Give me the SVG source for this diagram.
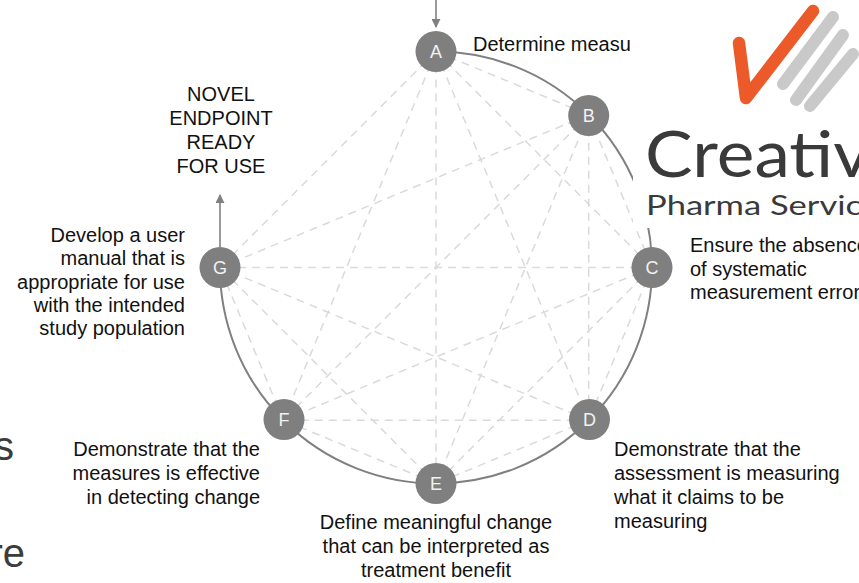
<svg xmlns="http://www.w3.org/2000/svg" width="859" height="583" viewBox="0 0 859 583">
<defs>
<style>
.lbl{font-family:"Liberation Sans",Arial,sans-serif;font-size:20px;fill:#111}
.dot{fill:#7f7f7f}
.ltr{font-family:"Liberation Sans",Arial,sans-serif;font-size:18px;fill:#f2f2f2;text-anchor:middle}
.dash{stroke:#dadada;stroke-width:1.5;stroke-dasharray:8 6;fill:none}
.ring{stroke:#808080;stroke-width:2;fill:none}
.arr{stroke:#808080;stroke-width:1.6;fill:none}
.big{font-family:"Liberation Sans",Arial,sans-serif;font-size:40px;fill:#3c3c3c;text-anchor:end}
.logo{font-family:Lato,"Open Sans",sans-serif;fill:#3a3a3a}
</style>
<marker id="ah" viewBox="0 0 10 10" refX="9" refY="5" markerWidth="9" markerHeight="9" markerUnits="userSpaceOnUse" orient="auto">
<path d="M0,0 L10,5 L0,10 z" fill="#808080"/>
</marker>
</defs>
<rect width="859" height="583" fill="#fff"/>
<g id="connectors">
<g id="chords">
<line class="dash" x1="436" y1="51.5" x2="588.7" y2="114.8"/>
<line class="dash" x1="436" y1="51.5" x2="652" y2="267.5"/>
<line class="dash" x1="436" y1="51.5" x2="588.7" y2="420.2"/>
<line class="dash" x1="436" y1="51.5" x2="436" y2="483.5"/>
<line class="dash" x1="436" y1="51.5" x2="283.3" y2="420.2"/>
<line class="dash" x1="436" y1="51.5" x2="220" y2="267.5"/>
<line class="dash" x1="588.7" y1="114.8" x2="652" y2="267.5"/>
<line class="dash" x1="588.7" y1="114.8" x2="588.7" y2="420.2"/>
<line class="dash" x1="588.7" y1="114.8" x2="436" y2="483.5"/>
<line class="dash" x1="588.7" y1="114.8" x2="283.3" y2="420.2"/>
<line class="dash" x1="588.7" y1="114.8" x2="220" y2="267.5"/>
<line class="dash" x1="652" y1="267.5" x2="588.7" y2="420.2"/>
<line class="dash" x1="652" y1="267.5" x2="436" y2="483.5"/>
<line class="dash" x1="652" y1="267.5" x2="283.3" y2="420.2"/>
<line class="dash" x1="652" y1="267.5" x2="220" y2="267.5"/>
<line class="dash" x1="588.7" y1="420.2" x2="436" y2="483.5"/>
<line class="dash" x1="588.7" y1="420.2" x2="283.3" y2="420.2"/>
<line class="dash" x1="588.7" y1="420.2" x2="220" y2="267.5"/>
<line class="dash" x1="436" y1="483.5" x2="283.3" y2="420.2"/>
<line class="dash" x1="436" y1="483.5" x2="220" y2="267.5"/>
<line class="dash" x1="283.3" y1="420.2" x2="220" y2="267.5"/>
</g>
<path id="ring" class="ring" d="M436,51.5 A216,216 0 1 1 220,267.5"/>
<line id="entry" class="arr" x1="436" y1="0" x2="436" y2="27" marker-end="url(#ah)"/>
<line id="exit" class="arr" x1="220" y1="247" x2="220" y2="195" marker-end="url(#ah)"/>
</g>
<g id="node-A"><circle class="dot" cx="436" cy="51.5" r="20.5"/><text class="ltr" x="436" y="58">A</text>
<text class="lbl" x="473" y="51">Determine measu</text></g>
<g id="node-B"><circle class="dot" cx="588.7" cy="115.5" r="20.5"/><text class="ltr" x="588.7" y="122">B</text></g>
<g id="node-C"><circle class="dot" cx="652" cy="267.5" r="20.5"/><text class="ltr" x="652" y="274">C</text>
<text class="lbl"><tspan x="690" y="252">Ensure the absence</tspan><tspan x="690" y="275.5">of systematic</tspan><tspan x="690" y="299">measurement error</tspan></text></g>
<g id="node-D"><circle class="dot" cx="589.5" cy="419.5" r="20.5"/><text class="ltr" x="589.5" y="426">D</text>
<text class="lbl"><tspan x="614" y="456">Demonstrate that the</tspan><tspan x="614" y="480">assessment is measuring</tspan><tspan x="614" y="504">what it claims to be</tspan><tspan x="614" y="528">measuring</tspan></text></g>
<g id="node-E"><circle class="dot" cx="436" cy="483.5" r="20.5"/><text class="ltr" x="436" y="490">E</text>
<text class="lbl" text-anchor="middle"><tspan x="436" y="529">Define meaningful change</tspan><tspan x="436" y="553">that can be interpreted as</tspan><tspan x="436" y="577">treatment benefit</tspan></text></g>
<g id="node-F"><circle class="dot" cx="284" cy="419.5" r="20.5"/><text class="ltr" x="284" y="426">F</text>
<text class="lbl" text-anchor="end"><tspan x="260" y="456">Demonstrate that the</tspan><tspan x="260" y="480">measures is effective</tspan><tspan x="260" y="504">in detecting change</tspan></text></g>
<g id="node-G"><circle class="dot" cx="220" cy="267.5" r="20.5"/><text class="ltr" x="220" y="274">G</text>
<text class="lbl" text-anchor="end"><tspan x="185" y="242">Develop a user</tspan><tspan x="185" y="265">manual that is</tspan><tspan x="185" y="288.5">appropriate for use</tspan><tspan x="185" y="312">with the intended</tspan><tspan x="185" y="335">study population</tspan></text></g>
<g id="endpoint"><text class="lbl" text-anchor="middle"><tspan x="221" y="101">NOVEL</tspan><tspan x="221" y="125">ENDPOINT</tspan><tspan x="221" y="149">READY</tspan><tspan x="221" y="173">FOR USE</tspan></text></g>
<g id="side-text"><text class="big" x="14" y="460">s</text><text class="big" x="25" y="567">re</text></g>
<g id="logo">
<rect x="633" y="0" width="226" height="228" fill="#fff"/>
<g stroke-linecap="round" stroke-linejoin="round" fill="none">
<path d="M739,43 L746,98 L813,11" stroke="#ec5a2a" stroke-width="12.5"/>
<line x1="833" y1="17" x2="783" y2="84" stroke="#c9c9c9" stroke-width="12"/>
<line x1="843" y1="35" x2="796" y2="100" stroke="#c9c9c9" stroke-width="12"/>
<line x1="853" y1="54" x2="810" y2="106" stroke="#c9c9c9" stroke-width="12"/>
</g>
<text class="logo" x="645" y="177" font-size="63" textLength="225" lengthAdjust="spacingAndGlyphs">Creativ</text>
<text class="logo" x="646" y="215" font-size="26" textLength="216" lengthAdjust="spacingAndGlyphs">Pharma Servic</text>
</g>
</svg>
